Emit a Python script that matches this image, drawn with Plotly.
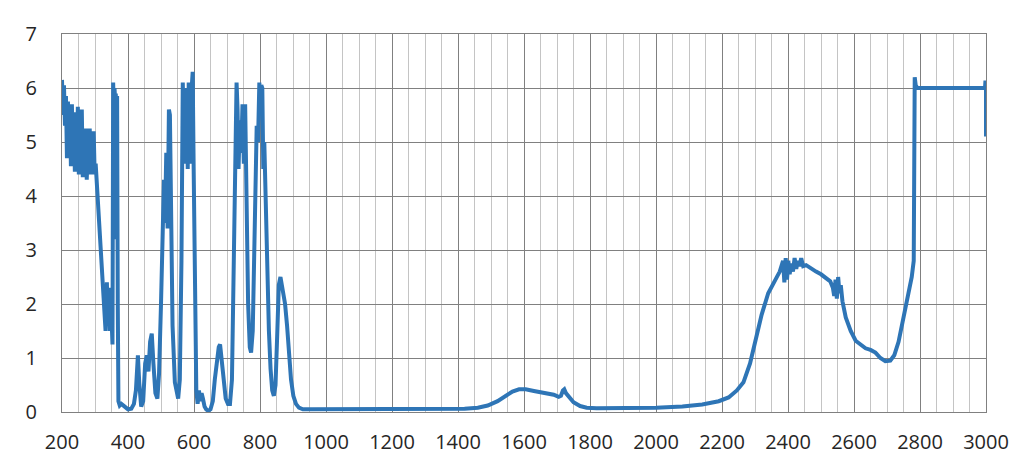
import plotly.graph_objects as go

# Traced spectrum: wavelength (x) and absorbance (y), rows aligned 10 per row
wavelength = [
    200, 203, 206, 209, 212, 215, 218, 221, 224, 227,
    230, 233, 236, 239, 242, 245, 248, 251, 254, 257,
    260, 263, 266, 269, 272, 275, 278, 281, 284, 287,
    290, 293, 296, 299, 302, 306, 312, 320, 327, 332,
    336, 339, 342, 345, 348, 351, 353, 355, 357, 359,
    361, 363, 365, 367, 369, 371, 375, 380, 390, 400,
    410, 418, 424, 430, 434, 440, 446, 452, 457, 462,
    467, 472, 477, 483, 489, 494, 500, 505, 509, 512,
    516, 520, 524, 527, 530, 535, 542, 548, 552, 557,
    562, 566, 569, 572, 575, 578, 581, 584, 587, 590,
    593, 596, 599, 603, 607, 611, 615, 619, 623, 627,
    632, 637, 643, 650, 657, 663, 669, 675, 679, 684,
    690, 696, 703, 709, 715, 720, 725, 729, 732, 735,
    739, 743, 747, 751, 755, 759, 764, 769, 773, 778,
    782, 786, 790, 794, 798, 801, 804, 807, 810, 813,
    817, 822, 827, 832, 837, 842, 847, 852, 857, 862,
    867, 871, 876, 882, 888, 894, 901, 909, 918, 930,
    960, 1100, 1300, 1420, 1460, 1490, 1520, 1545, 1565, 1585,
    1605, 1630, 1660, 1690, 1705, 1712, 1718, 1722, 1727, 1735,
    1750, 1770, 1790, 1820, 1900, 2000, 2080, 2140, 2190, 2220,
    2245, 2265, 2285, 2300, 2320, 2340, 2360, 2375, 2385, 2389,
    2393, 2397, 2401, 2405, 2410, 2415, 2420, 2425, 2430, 2435,
    2440, 2446, 2455, 2470, 2485, 2500, 2515, 2528, 2536, 2540,
    2544, 2548, 2552, 2556, 2560, 2565, 2575, 2590, 2605, 2620,
    2635, 2650, 2665, 2680, 2695, 2710, 2722, 2735, 2750, 2765,
    2775, 2781, 2784, 2787, 2792, 2900, 2997, 2998, 3000, 3000,
]
absorbance = [
    6.15, 5.50, 6.05, 5.30, 5.85, 4.70, 5.75, 4.80, 5.60, 4.55,
    5.70, 4.60, 5.40, 4.45, 5.55, 4.50, 5.65, 4.40, 5.20, 4.55,
    5.60, 4.35, 5.00, 4.50, 5.25, 4.30, 4.90, 4.45, 5.25, 4.40,
    5.00, 4.55, 5.20, 4.40, 4.60, 4.20, 3.60, 2.60, 1.80, 1.50,
    2.40, 1.60, 2.30, 1.50, 2.10, 1.30, 1.25, 6.10, 5.60, 6.00,
    5.80, 5.90, 3.20, 5.85, 2.00, 0.20, 0.12, 0.15, 0.10, 0.05,
    0.06, 0.15, 0.40, 1.05, 0.55, 0.10, 0.20, 0.90, 1.05, 0.75,
    1.30, 1.45, 0.90, 0.35, 0.25, 0.70, 2.00, 3.80, 4.30, 3.50,
    4.80, 3.40, 5.60, 5.50, 3.80, 1.60, 0.55, 0.30, 0.25, 0.60,
    2.80, 6.10, 5.10, 5.90, 4.60, 6.00, 4.50, 6.10, 5.20, 4.60,
    6.00, 6.30, 4.50, 1.50, 0.40, 0.15, 0.40, 0.20, 0.35, 0.25,
    0.10, 0.05, 0.02, 0.05, 0.20, 0.60, 1.00, 1.20, 1.25, 0.95,
    0.55, 0.25, 0.15, 0.15, 0.60, 2.50, 5.00, 6.10, 5.60, 4.50,
    5.40, 4.80, 5.70, 4.60, 5.70, 3.50, 2.00, 1.20, 1.10, 1.50,
    3.00, 4.90, 5.30, 5.00, 6.10, 5.70, 6.05, 6.00, 4.50, 5.00,
    3.80, 2.50, 1.50, 0.80, 0.40, 0.30, 0.50, 1.40, 2.35, 2.50,
    2.35, 2.20, 2.00, 1.60, 1.10, 0.60, 0.30, 0.15, 0.08, 0.05,
    0.05, 0.05, 0.05, 0.06, 0.08, 0.12, 0.20, 0.30, 0.38, 0.42,
    0.42, 0.39, 0.36, 0.32, 0.28, 0.30, 0.40, 0.42, 0.35, 0.28,
    0.18, 0.11, 0.08, 0.07, 0.07, 0.08, 0.10, 0.14, 0.20, 0.27,
    0.40, 0.55, 0.90, 1.30, 1.80, 2.20, 2.45, 2.60, 2.80, 2.40,
    2.85, 2.45, 2.80, 2.55, 2.75, 2.60, 2.85, 2.65, 2.80, 2.70,
    2.85, 2.70, 2.72, 2.65, 2.60, 2.55, 2.48, 2.42, 2.30, 2.15,
    2.45, 2.10, 2.50, 2.20, 2.35, 2.05, 1.75, 1.50, 1.32, 1.25,
    1.18, 1.15, 1.10, 1.00, 0.94, 0.95, 1.05, 1.30, 1.75, 2.20,
    2.50, 2.80, 6.20, 6.05, 6.00, 6.00, 6.00, 6.10, 6.10, 5.10,
]

fig = go.Figure()

fig.add_trace(go.Scatter(
    x=wavelength, y=absorbance, mode='lines',
    line=dict(color='#2E75B6', width=4),
    showlegend=False,
))

axis_font = dict(family='Open Sans, Arial, sans-serif', size=20, color='#262626')

fig.update_xaxes(
    range=[200, 3000], dtick=200, tick0=200,
    showgrid=True, gridcolor='#808080', gridwidth=1,
    minor=dict(dtick=50, showgrid=True, gridcolor='#c4c4c4', gridwidth=1),
    zeroline=False, showline=True, linecolor='#808080', mirror=True,
    ticks='', tickfont=axis_font, ticklabelstandoff=12, automargin=False,
)
fig.update_yaxes(
    range=[0, 7], dtick=1,
    showgrid=True, gridcolor='#808080', gridwidth=1,
    zeroline=False, showline=True, linecolor='#808080', mirror=True,
    ticks='', tickfont=axis_font, ticklabelstandoff=20, automargin=False,
)

# page adds an 8px body offset, so margins are trimmed to land the plot area
fig.update_layout(
    width=1024, height=460,
    margin=dict(l=54, r=46, t=26, b=56),
    plot_bgcolor='white', paper_bgcolor='white',
)

fig.write_html("out.html")
